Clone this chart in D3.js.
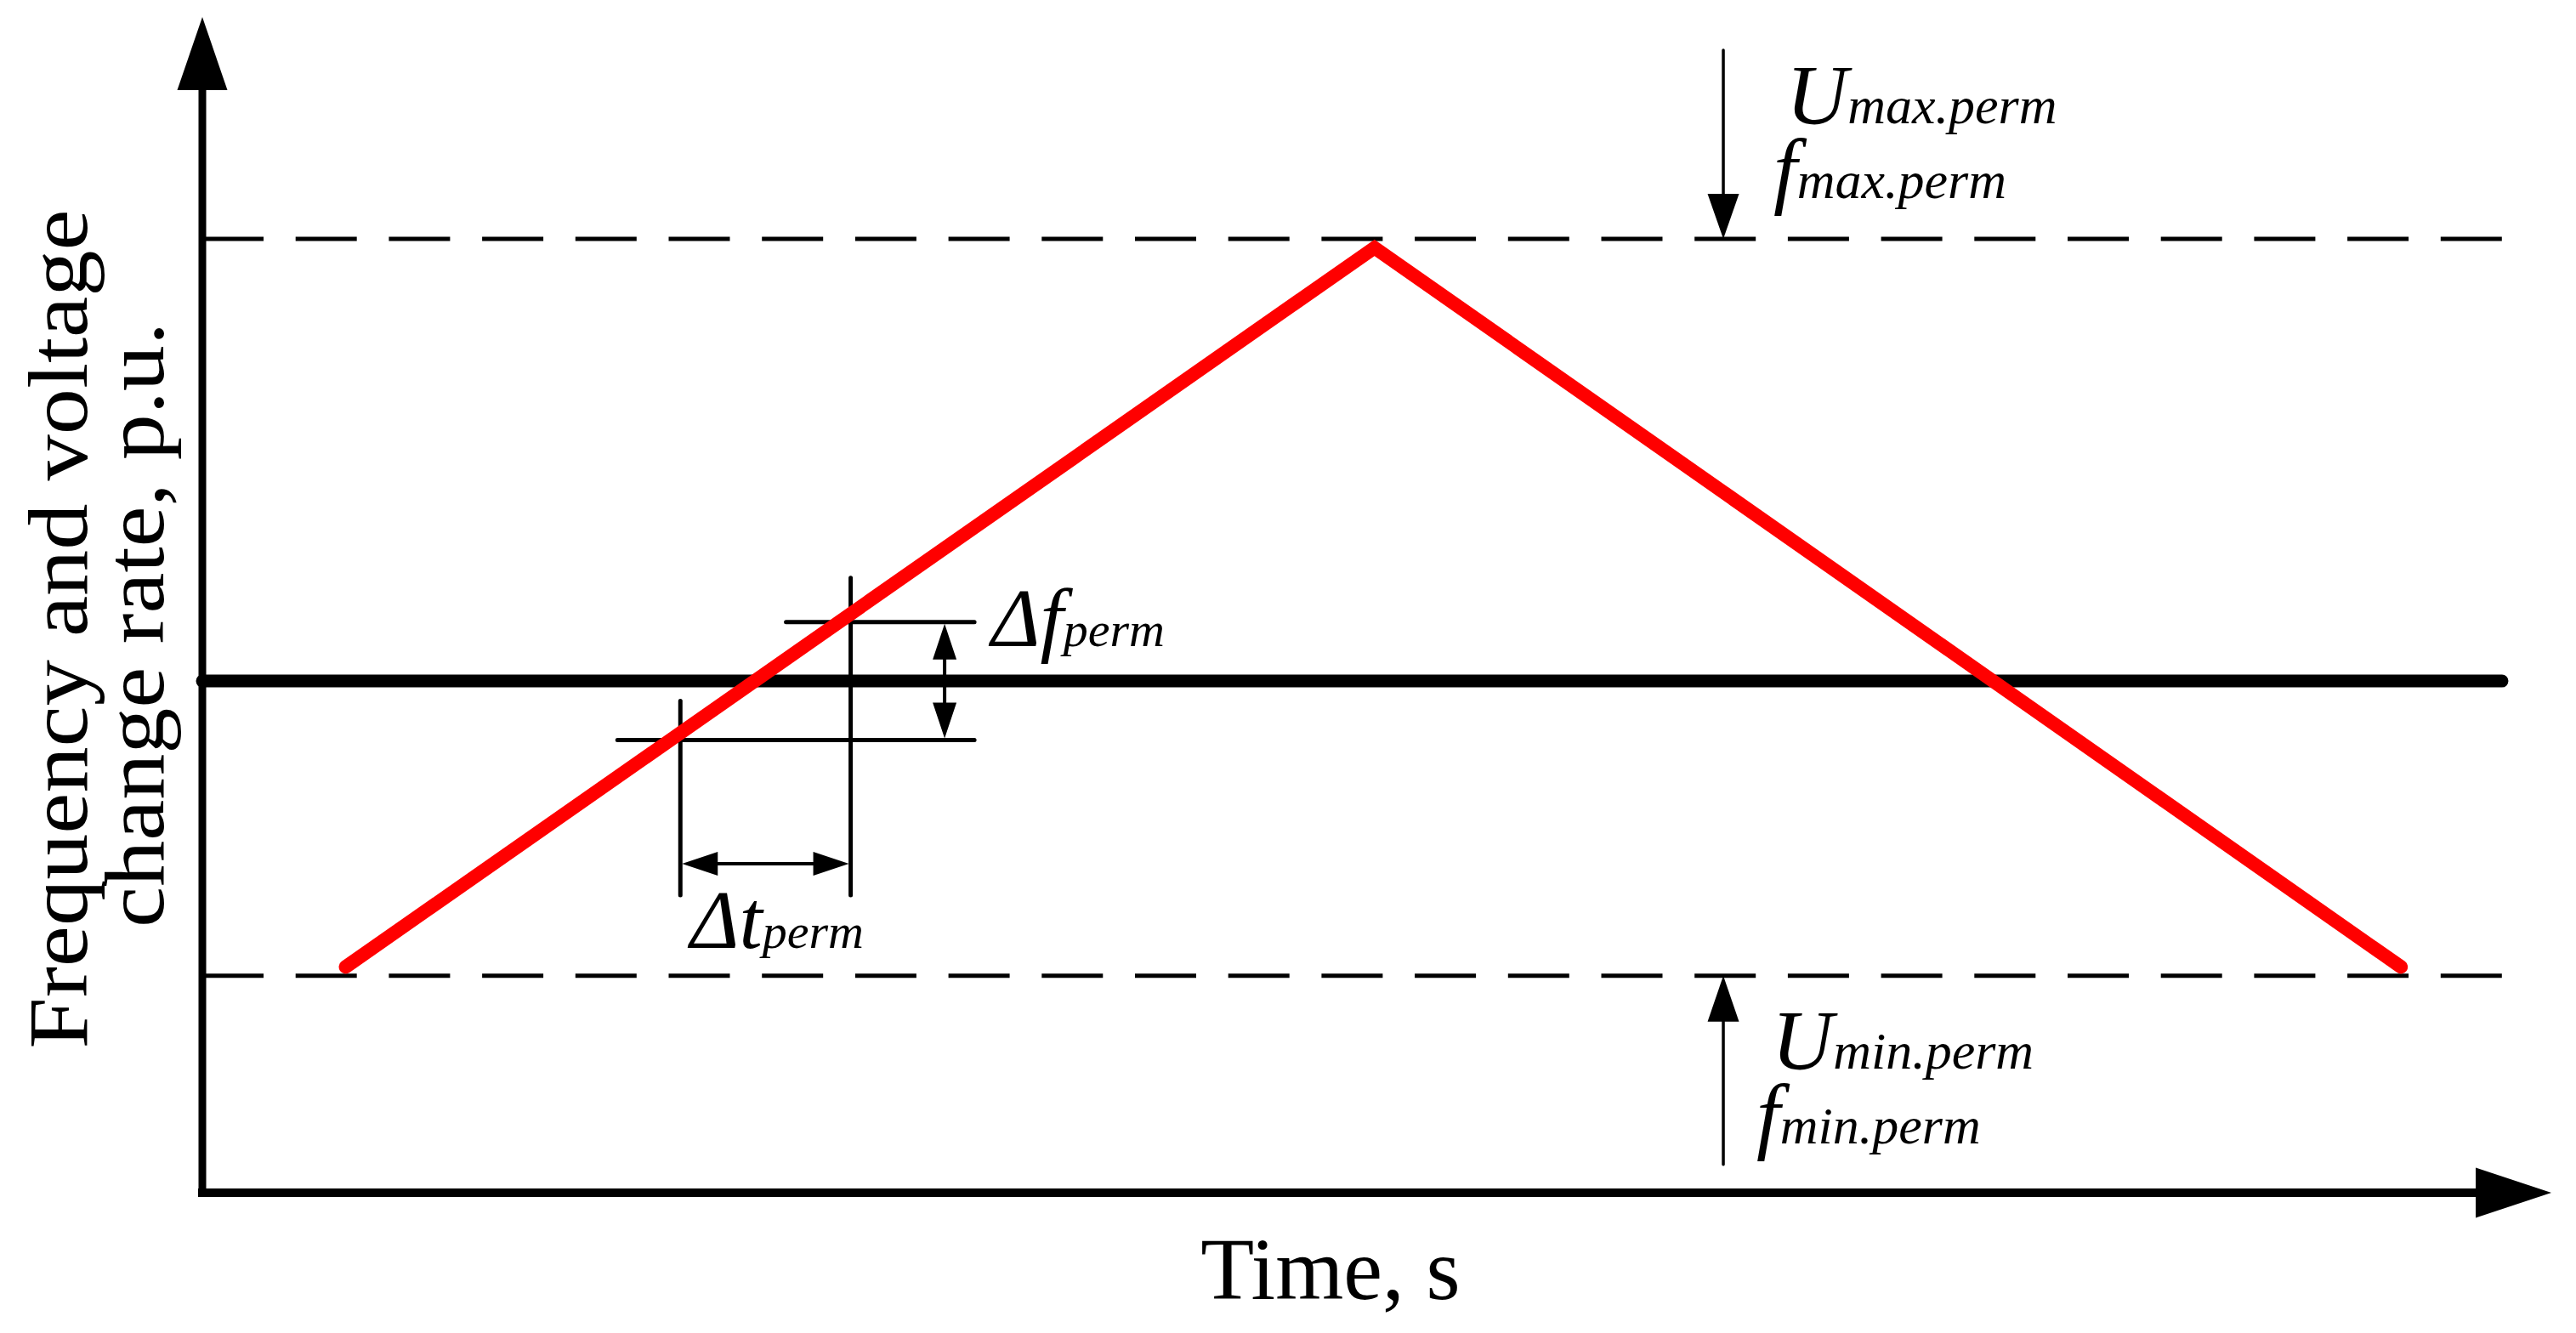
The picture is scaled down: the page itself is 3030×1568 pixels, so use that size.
<!DOCTYPE html>
<html>
<head>
<meta charset="utf-8">
<script src="https://cdn.jsdelivr.net/npm/d3@7/dist/d3.min.js"></script>
<style>
  html, body { margin: 0; padding: 0; background: #fff; }
  svg { display: block; }
</style>
</head>
<body>
<div id="chart"></div>
<script>
// time in s, values in p.u.
const timeDomain = [0, 10];
const valueDomain = [0.8264, 1.15];
const rampTimes = [0.61, 4.99, 9.36];
const rampValues = [0.903, 1.147, 0.903];
const permLevels = [1.15, 0.90];
const nominalLevel = 1.0;
const levelEnd = 9.79;
const dtWindow = [2.035, 2.76];
const dfBand = [0.98, 1.02];
const dtArrowLevel = 0.938;
const dfArrowTime = 3.16;
const permArrowTime = 6.475;
const xLabel = 'Time, s';
const yLabelLines = ['Frequency and voltage', 'change rate, p.u.'];
const maxLabels = [['U', 'max.perm'], ['f', 'max.perm']];
const minLabels = [['U', 'min.perm'], ['f', 'min.perm']];

const width = 3030, height = 1568;
const serif = "'Liberation Serif', 'Times New Roman', serif";

const svg = d3.select('#chart').append('svg')
  .attr('width', width)
  .attr('height', height)
  .style('background', '#fff');

const x = d3.scaleLinear().domain(timeDomain).range([238, 3001]);
const y = d3.scaleLinear().domain(valueDomain).range([1403, 281]);

function arrowHead(tx, ty, dir, len, half) {
  // dir: 'up' | 'down' | 'left' | 'right', tip at (tx, ty)
  let pts;
  if (dir === 'up') pts = [[tx, ty], [tx - half, ty + len], [tx + half, ty + len]];
  if (dir === 'down') pts = [[tx, ty], [tx - half, ty - len], [tx + half, ty - len]];
  if (dir === 'left') pts = [[tx, ty], [tx + len, ty - half], [tx + len, ty + half]];
  if (dir === 'right') pts = [[tx, ty], [tx - len, ty - half], [tx - len, ty + half]];
  svg.append('path')
    .attr('d', 'M' + pts.map(p => p.join(',')).join('L') + 'Z')
    .attr('fill', '#000');
}

function seg(x1, y1, x2, y2, w) {
  svg.append('line')
    .attr('x1', x1).attr('y1', y1)
    .attr('x2', x2).attr('y2', y2)
    .attr('stroke', '#000')
    .attr('stroke-width', w)
    .attr('stroke-linecap', 'round');
}

// permissible limits (dashed)
svg.selectAll('.perm')
  .data(permLevels)
  .enter().append('line')
  .attr('class', 'perm')
  .attr('x1', x(0)).attr('x2', x(levelEnd))
  .attr('y1', d => y(d)).attr('y2', d => y(d))
  .attr('stroke', '#000')
  .attr('stroke-width', 5)
  .attr('stroke-dasharray', '72 37.7');

// nominal level
svg.append('line')
  .attr('x1', x(0)).attr('x2', x(levelEnd))
  .attr('y1', y(nominalLevel)).attr('y2', y(nominalLevel))
  .attr('stroke', '#000')
  .attr('stroke-width', 15)
  .attr('stroke-linecap', 'round');

// axes
const x0 = x(timeDomain[0]), yBase = 1403;
svg.append('line')
  .attr('x1', x0).attr('x2', x0)
  .attr('y1', yBase + 5).attr('y2', 106)
  .attr('stroke', '#000').attr('stroke-width', 9);
arrowHead(x0, 20, 'up', 86, 29.5);
svg.append('line')
  .attr('x1', x0 - 5).attr('x2', 2912)
  .attr('y1', yBase).attr('y2', yBase)
  .attr('stroke', '#000').attr('stroke-width', 10);
arrowHead(x(timeDomain[1]), yBase, 'right', 89, 29.5);

// delta-t / delta-f construction
const tA = x(dtWindow[0]), tB = x(dtWindow[1]);
const fLo = y(dfBand[0]), fHi = y(dfBand[1]);
seg(tA, fLo - 46, tA, 1053, 5);
seg(tB, fHi - 52, tB, 1053, 5);
seg(tA - 74, fLo, x(dfArrowTime) + 35, fLo, 5);
seg(tB - 76, fHi, x(dfArrowTime) + 35, fHi, 5);

const ya = y(dtArrowLevel);
seg(tA + 30, ya, tB - 30, ya, 4);
arrowHead(tA + 2, ya, 'left', 42, 14);
arrowHead(tB - 2, ya, 'right', 42, 14);

const xf = x(dfArrowTime);
seg(xf, fHi + 30, xf, fLo - 30, 4);
arrowHead(xf, fHi + 2, 'up', 42, 14);
arrowHead(xf, fLo - 2, 'down', 42, 14);

// ramp
const line = d3.line().x(d => x(d[0])).y(d => y(d[1]));
svg.append('path')
  .datum(rampTimes.map((t, i) => [t, rampValues[i]]))
  .attr('d', line)
  .attr('fill', 'none')
  .attr('stroke', '#ff0000')
  .attr('stroke-width', 16)
  .attr('stroke-linecap', 'round')
  .attr('stroke-linejoin', 'miter');

// limit arrows
const xp = x(permArrowTime);
seg(xp, y(permLevels[0]) - 222, xp, y(permLevels[0]) - 50, 3.5);
arrowHead(xp, y(permLevels[0]), 'down', 53, 18.5);
seg(xp, y(permLevels[1]) + 222, xp, y(permLevels[1]) + 50, 3.5);
arrowHead(xp, y(permLevels[1]), 'up', 54, 18.5);

function symLabel(px, py, parts, bigSize, smallSize) {
  const t = svg.append('text')
    .attr('x', px).attr('y', py)
    .attr('font-family', serif)
    .attr('font-style', 'italic')
    .attr('fill', '#000');
  t.append('tspan').attr('font-size', bigSize).text(parts[0]);
  t.append('tspan').attr('font-size', smallSize).text(parts[1]);
}

symLabel(2101, 145, maxLabels[0], 100, 62);
symLabel(2086, 233, maxLabels[1], 100, 62);
symLabel(2084, 1257, minLabels[0], 100, 62);
symLabel(2066, 1345, minLabels[1], 100, 62);
symLabel(1166, 760, ['\u0394f', 'perm'], 98, 58);
symLabel(812, 1115, ['\u0394t', 'perm'], 98, 58);

// axis titles
svg.append('text')
  .attr('x', 1565).attr('y', 1528)
  .attr('text-anchor', 'middle')
  .attr('font-family', serif)
  .attr('font-size', 103)
  .attr('fill', '#000')
  .text(xLabel);

const yLab = svg.append('g');
yLabelLines.forEach((s, i) => {
  yLab.append('text')
    .attr('transform', `translate(${[102, 192][i]},${[740, 735][i]}) rotate(-90)`)
    .attr('text-anchor', 'middle')
    .attr('font-family', serif)
    .attr('font-size', 100)
    .attr('textLength', [987, 712][i])
    .attr('lengthAdjust', 'spacingAndGlyphs')
    .attr('fill', '#000')
    .text(s);
});
</script>
</body>
</html>
